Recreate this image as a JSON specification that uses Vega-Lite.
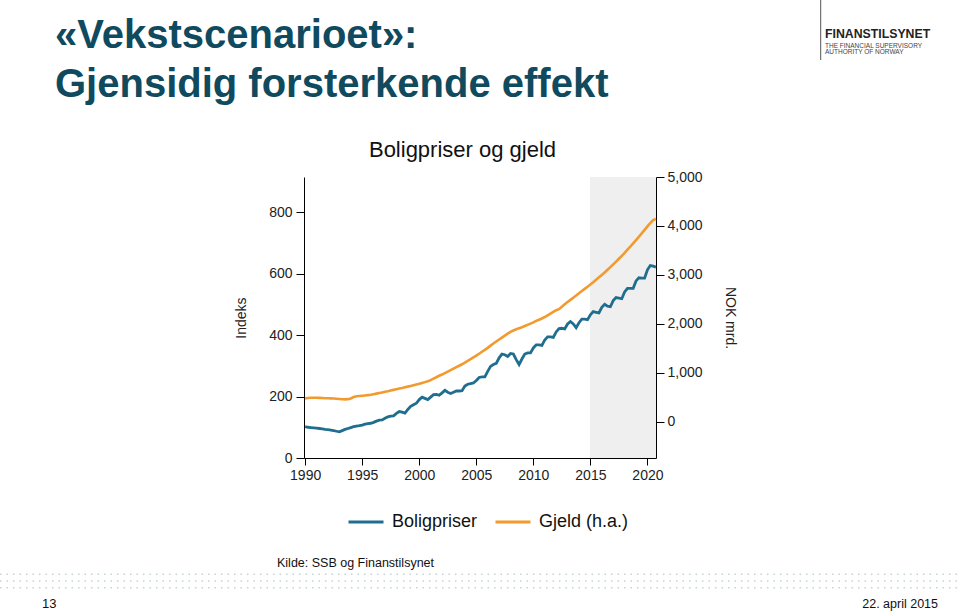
{
  "$schema": "https://vega.github.io/schema/vega-lite/v6.json",
  "width": 352,
  "height": 281,
  "autosize": {"type": "none"},
  "padding": {"left": 304, "top": 177, "right": 304, "bottom": 153},
  "background": "white",
  "config": {
    "font": "Liberation Sans",
    "view": {"stroke": null},
    "axis": {"grid": false, "domainColor": "#000", "tickColor": "#000", "labelColor": "#222", "labelFontSize": 14, "titleFontWeight": "normal", "titleColor": "#222", "titleFontSize": 14}
  },
  "data": {
    "values": [
      {"t": 1990, "b": 102, "g": 478}, {"t": 1990.25, "b": 100, "g": 485}, {"t": 1990.5, "b": 99, "g": 490}, {"t": 1990.75, "b": 98, "g": 490},
      {"t": 1991, "b": 97, "g": 490}, {"t": 1991.25, "b": 96, "g": 488}, {"t": 1991.5, "b": 95, "g": 485}, {"t": 1991.75, "b": 93, "g": 482},
      {"t": 1992, "b": 92, "g": 480}, {"t": 1992.25, "b": 91, "g": 478}, {"t": 1992.5, "b": 89, "g": 475}, {"t": 1992.75, "b": 87, "g": 470},
      {"t": 1993, "b": 85, "g": 465}, {"t": 1993.25, "b": 89, "g": 460}, {"t": 1993.5, "b": 93, "g": 457}, {"t": 1993.75, "b": 96, "g": 462},
      {"t": 1994, "b": 99, "g": 475}, {"t": 1994.25, "b": 102, "g": 505}, {"t": 1994.5, "b": 104, "g": 520}, {"t": 1994.75, "b": 105, "g": 526},
      {"t": 1995, "b": 107, "g": 532}, {"t": 1995.25, "b": 110, "g": 538}, {"t": 1995.5, "b": 112, "g": 545}, {"t": 1995.75, "b": 113, "g": 552},
      {"t": 1996, "b": 116, "g": 563}, {"t": 1996.25, "b": 120, "g": 575}, {"t": 1996.5, "b": 123, "g": 588}, {"t": 1996.75, "b": 124, "g": 600},
      {"t": 1997, "b": 129, "g": 612}, {"t": 1997.25, "b": 134, "g": 625}, {"t": 1997.5, "b": 136, "g": 640}, {"t": 1997.75, "b": 137, "g": 652},
      {"t": 1998, "b": 145, "g": 665}, {"t": 1998.25, "b": 151, "g": 678}, {"t": 1998.5, "b": 149, "g": 690}, {"t": 1998.75, "b": 146, "g": 704},
      {"t": 1999, "b": 158, "g": 718}, {"t": 1999.25, "b": 168, "g": 732}, {"t": 1999.5, "b": 173, "g": 746}, {"t": 1999.75, "b": 178, "g": 760},
      {"t": 2000, "b": 190, "g": 775}, {"t": 2000.25, "b": 198, "g": 792}, {"t": 2000.5, "b": 194, "g": 810}, {"t": 2000.75, "b": 190, "g": 828},
      {"t": 2001, "b": 198, "g": 850}, {"t": 2001.25, "b": 206, "g": 880}, {"t": 2001.5, "b": 207, "g": 910}, {"t": 2001.75, "b": 204, "g": 940},
      {"t": 2002, "b": 212, "g": 965}, {"t": 2002.25, "b": 220, "g": 995}, {"t": 2002.5, "b": 214, "g": 1025}, {"t": 2002.75, "b": 210, "g": 1055},
      {"t": 2003, "b": 214, "g": 1085}, {"t": 2003.25, "b": 218, "g": 1115}, {"t": 2003.5, "b": 218, "g": 1145}, {"t": 2003.75, "b": 219, "g": 1175},
      {"t": 2004, "b": 234, "g": 1210}, {"t": 2004.25, "b": 240, "g": 1245}, {"t": 2004.5, "b": 242, "g": 1280}, {"t": 2004.75, "b": 244, "g": 1315},
      {"t": 2005, "b": 252, "g": 1350}, {"t": 2005.25, "b": 262, "g": 1390}, {"t": 2005.5, "b": 264, "g": 1430}, {"t": 2005.75, "b": 264, "g": 1470},
      {"t": 2006, "b": 282, "g": 1510}, {"t": 2006.25, "b": 298, "g": 1555}, {"t": 2006.5, "b": 304, "g": 1600}, {"t": 2006.75, "b": 308, "g": 1640},
      {"t": 2007, "b": 326, "g": 1680}, {"t": 2007.25, "b": 338, "g": 1720}, {"t": 2007.5, "b": 336, "g": 1760}, {"t": 2007.75, "b": 330, "g": 1800},
      {"t": 2008, "b": 340, "g": 1835}, {"t": 2008.25, "b": 338, "g": 1865}, {"t": 2008.5, "b": 320, "g": 1890}, {"t": 2008.75, "b": 304, "g": 1910},
      {"t": 2009, "b": 322, "g": 1930}, {"t": 2009.25, "b": 338, "g": 1955}, {"t": 2009.5, "b": 342, "g": 1980}, {"t": 2009.75, "b": 342, "g": 2005},
      {"t": 2010, "b": 358, "g": 2030}, {"t": 2010.25, "b": 368, "g": 2060}, {"t": 2010.5, "b": 368, "g": 2085}, {"t": 2010.75, "b": 366, "g": 2110},
      {"t": 2011, "b": 384, "g": 2140}, {"t": 2011.25, "b": 394, "g": 2175}, {"t": 2011.5, "b": 394, "g": 2210}, {"t": 2011.75, "b": 392, "g": 2245},
      {"t": 2012, "b": 410, "g": 2280}, {"t": 2012.25, "b": 421, "g": 2300}, {"t": 2012.5, "b": 422, "g": 2350}, {"t": 2012.75, "b": 420, "g": 2400},
      {"t": 2013, "b": 436, "g": 2445}, {"t": 2013.25, "b": 444, "g": 2490}, {"t": 2013.5, "b": 436, "g": 2535}, {"t": 2013.75, "b": 424, "g": 2580},
      {"t": 2014, "b": 440, "g": 2625}, {"t": 2014.25, "b": 452, "g": 2670}, {"t": 2014.5, "b": 452, "g": 2715}, {"t": 2014.75, "b": 450, "g": 2760},
      {"t": 2015, "b": 466, "g": 2805}, {"t": 2015.25, "b": 476, "g": 2850}, {"t": 2015.5, "b": 474, "g": 2900}, {"t": 2015.75, "b": 472, "g": 2950},
      {"t": 2016, "b": 490, "g": 3000}, {"t": 2016.25, "b": 500, "g": 3050}, {"t": 2016.5, "b": 494, "g": 3105}, {"t": 2016.75, "b": 492, "g": 3160},
      {"t": 2017, "b": 512, "g": 3215}, {"t": 2017.25, "b": 522, "g": 3270}, {"t": 2017.5, "b": 520, "g": 3330}, {"t": 2017.75, "b": 518, "g": 3390},
      {"t": 2018, "b": 540, "g": 3450}, {"t": 2018.25, "b": 552, "g": 3515}, {"t": 2018.5, "b": 552, "g": 3580}, {"t": 2018.75, "b": 552, "g": 3645},
      {"t": 2019, "b": 576, "g": 3710}, {"t": 2019.25, "b": 586, "g": 3780}, {"t": 2019.5, "b": 585, "g": 3850}, {"t": 2019.75, "b": 585, "g": 3920},
      {"t": 2020, "b": 612, "g": 3990}, {"t": 2020.25, "b": 626, "g": 4060}, {"t": 2020.5, "b": 624, "g": 4120}, {"t": 2020.75, "b": 621, "g": 4140}
    ]
  },
  "layer": [
    {
      "mark": {"type": "rect", "color": "#efefef"},
      "encoding": {
        "x": {"datum": 2015, "type": "quantitative", "scale": {"domain": [1989.9, 2020.75], "nice": false, "zero": false}},
        "x2": {"datum": 2020.75}
      }
    },
    {
      "mark": {"type": "line", "strokeWidth": 2.8},
      "encoding": {
        "x": {"field": "t", "type": "quantitative", "scale": {"domain": [1989.9, 2020.75], "nice": false, "zero": false},
          "axis": {"values": [1990, 1995, 2000, 2005, 2010, 2015, 2020], "format": "d", "title": null, "tickSize": 7, "labelPadding": 3}},
        "y": {"field": "b", "type": "quantitative", "scale": {"domain": [0, 914], "nice": false},
          "axis": {"orient": "left", "values": [0, 200, 400, 600, 800], "format": ".0f", "tickSize": 8, "labelPadding": 4, "title": "Indeks", "titlePadding": 20}},
        "color": {"datum": "Boligpriser", "type": "nominal",
          "scale": {"domain": ["Boligpriser", "Gjeld (h.a.)"], "range": ["#1f6e8f", "#f29a2e"]},
          "legend": {"orient": "none", "legendX": 43, "legendY": 326, "direction": "horizontal", "title": null, "symbolType": "stroke", "symbolSize": 1225, "symbolStrokeWidth": 3, "labelFontSize": 18, "labelColor": "#111", "labelOffset": 7, "columnPadding": 11, "padding": 0}}
      }
    },
    {
      "mark": {"type": "line", "strokeWidth": 2.6},
      "encoding": {
        "x": {"field": "t", "type": "quantitative", "scale": {"domain": [1989.9, 2020.75], "nice": false, "zero": false}},
        "y": {"field": "g", "type": "quantitative", "scale": {"domain": [-740, 5000], "nice": false, "zero": false},
          "axis": {"orient": "right", "values": [0, 1000, 2000, 3000, 4000, 5000], "format": ",.0f", "tickSize": 8, "labelPadding": 3, "title": "NOK mrd.", "titlePadding": 20}},
        "color": {"datum": "Gjeld (h.a.)", "type": "nominal"}
      }
    },
    {
      "data": {"values": [{}]},
      "mark": {"type": "text", "text": "Boligpriser og gjeld", "x": 158.5, "y": -20, "align": "center", "baseline": "alphabetic", "fontSize": 22, "color": "#111"},
      "encoding": {}
    },
    {
      "data": {"values": [{}]},
      "mark": {"type": "text", "text": ["«Vekstscenarioet»:", "Gjensidig forsterkende effekt"], "x": -249, "y": -129.5, "align": "left", "baseline": "alphabetic", "fontSize": 40, "fontWeight": "bold", "lineHeight": 49, "color": "#0f4a5e"},
      "encoding": {}
    },
    {
      "data": {"values": [{}]},
      "mark": {"type": "rule", "color": "#555", "strokeWidth": 1},
      "encoding": {"x": {"value": 516.7}, "y": {"value": -177}, "y2": {"value": -117}}
    },
    {
      "data": {"values": [{}]},
      "mark": {"type": "text", "text": "FINANSTILSYNET", "x": 521, "y": -138.7, "align": "left", "baseline": "alphabetic", "fontSize": 12.3, "fontWeight": "bold", "color": "#222"},
      "encoding": {}
    },
    {
      "data": {"values": [{}]},
      "mark": {"type": "text", "text": ["THE FINANCIAL SUPERVISORY", "AUTHORITY OF NORWAY"], "x": 521, "y": -129.3, "align": "left", "baseline": "alphabetic", "fontSize": 6.5, "lineHeight": 5.8, "color": "#444"},
      "encoding": {}
    },
    {
      "data": {"values": [{}]},
      "mark": {"type": "text", "text": "Kilde: SSB og Finanstilsynet", "x": -27, "y": 389.7, "align": "left", "baseline": "alphabetic", "fontSize": 12.5, "color": "#111"},
      "encoding": {}
    },
    {
      "data": {"values": [{}]},
      "mark": {"type": "rule", "color": "#c5d2d8", "strokeWidth": 1.5, "strokeDash": [1.5, 5]},
      "encoding": {"x": {"value": -304}, "x2": {"value": 656}, "y": {"value": 397.3}}
    },
    {
      "data": {"values": [{}]},
      "mark": {"type": "rule", "color": "#c5d2d8", "strokeWidth": 1.5, "strokeDash": [1.5, 5]},
      "encoding": {"x": {"value": -304}, "x2": {"value": 656}, "y": {"value": 404}}
    },
    {
      "data": {"values": [{}]},
      "mark": {"type": "rule", "color": "#c5d2d8", "strokeWidth": 1.5, "strokeDash": [1.5, 5]},
      "encoding": {"x": {"value": -304}, "x2": {"value": 656}, "y": {"value": 410.7}}
    },
    {
      "data": {"values": [{}]},
      "mark": {"type": "text", "text": "13", "x": -262, "y": 431, "align": "left", "baseline": "alphabetic", "fontSize": 13, "color": "#111"},
      "encoding": {}
    },
    {
      "data": {"values": [{}]},
      "mark": {"type": "text", "text": "22. april 2015", "x": 634, "y": 431, "align": "right", "baseline": "alphabetic", "fontSize": 12.5, "color": "#111"},
      "encoding": {}
    }
  ],
  "resolve": {"scale": {"y": "independent"}}
}
